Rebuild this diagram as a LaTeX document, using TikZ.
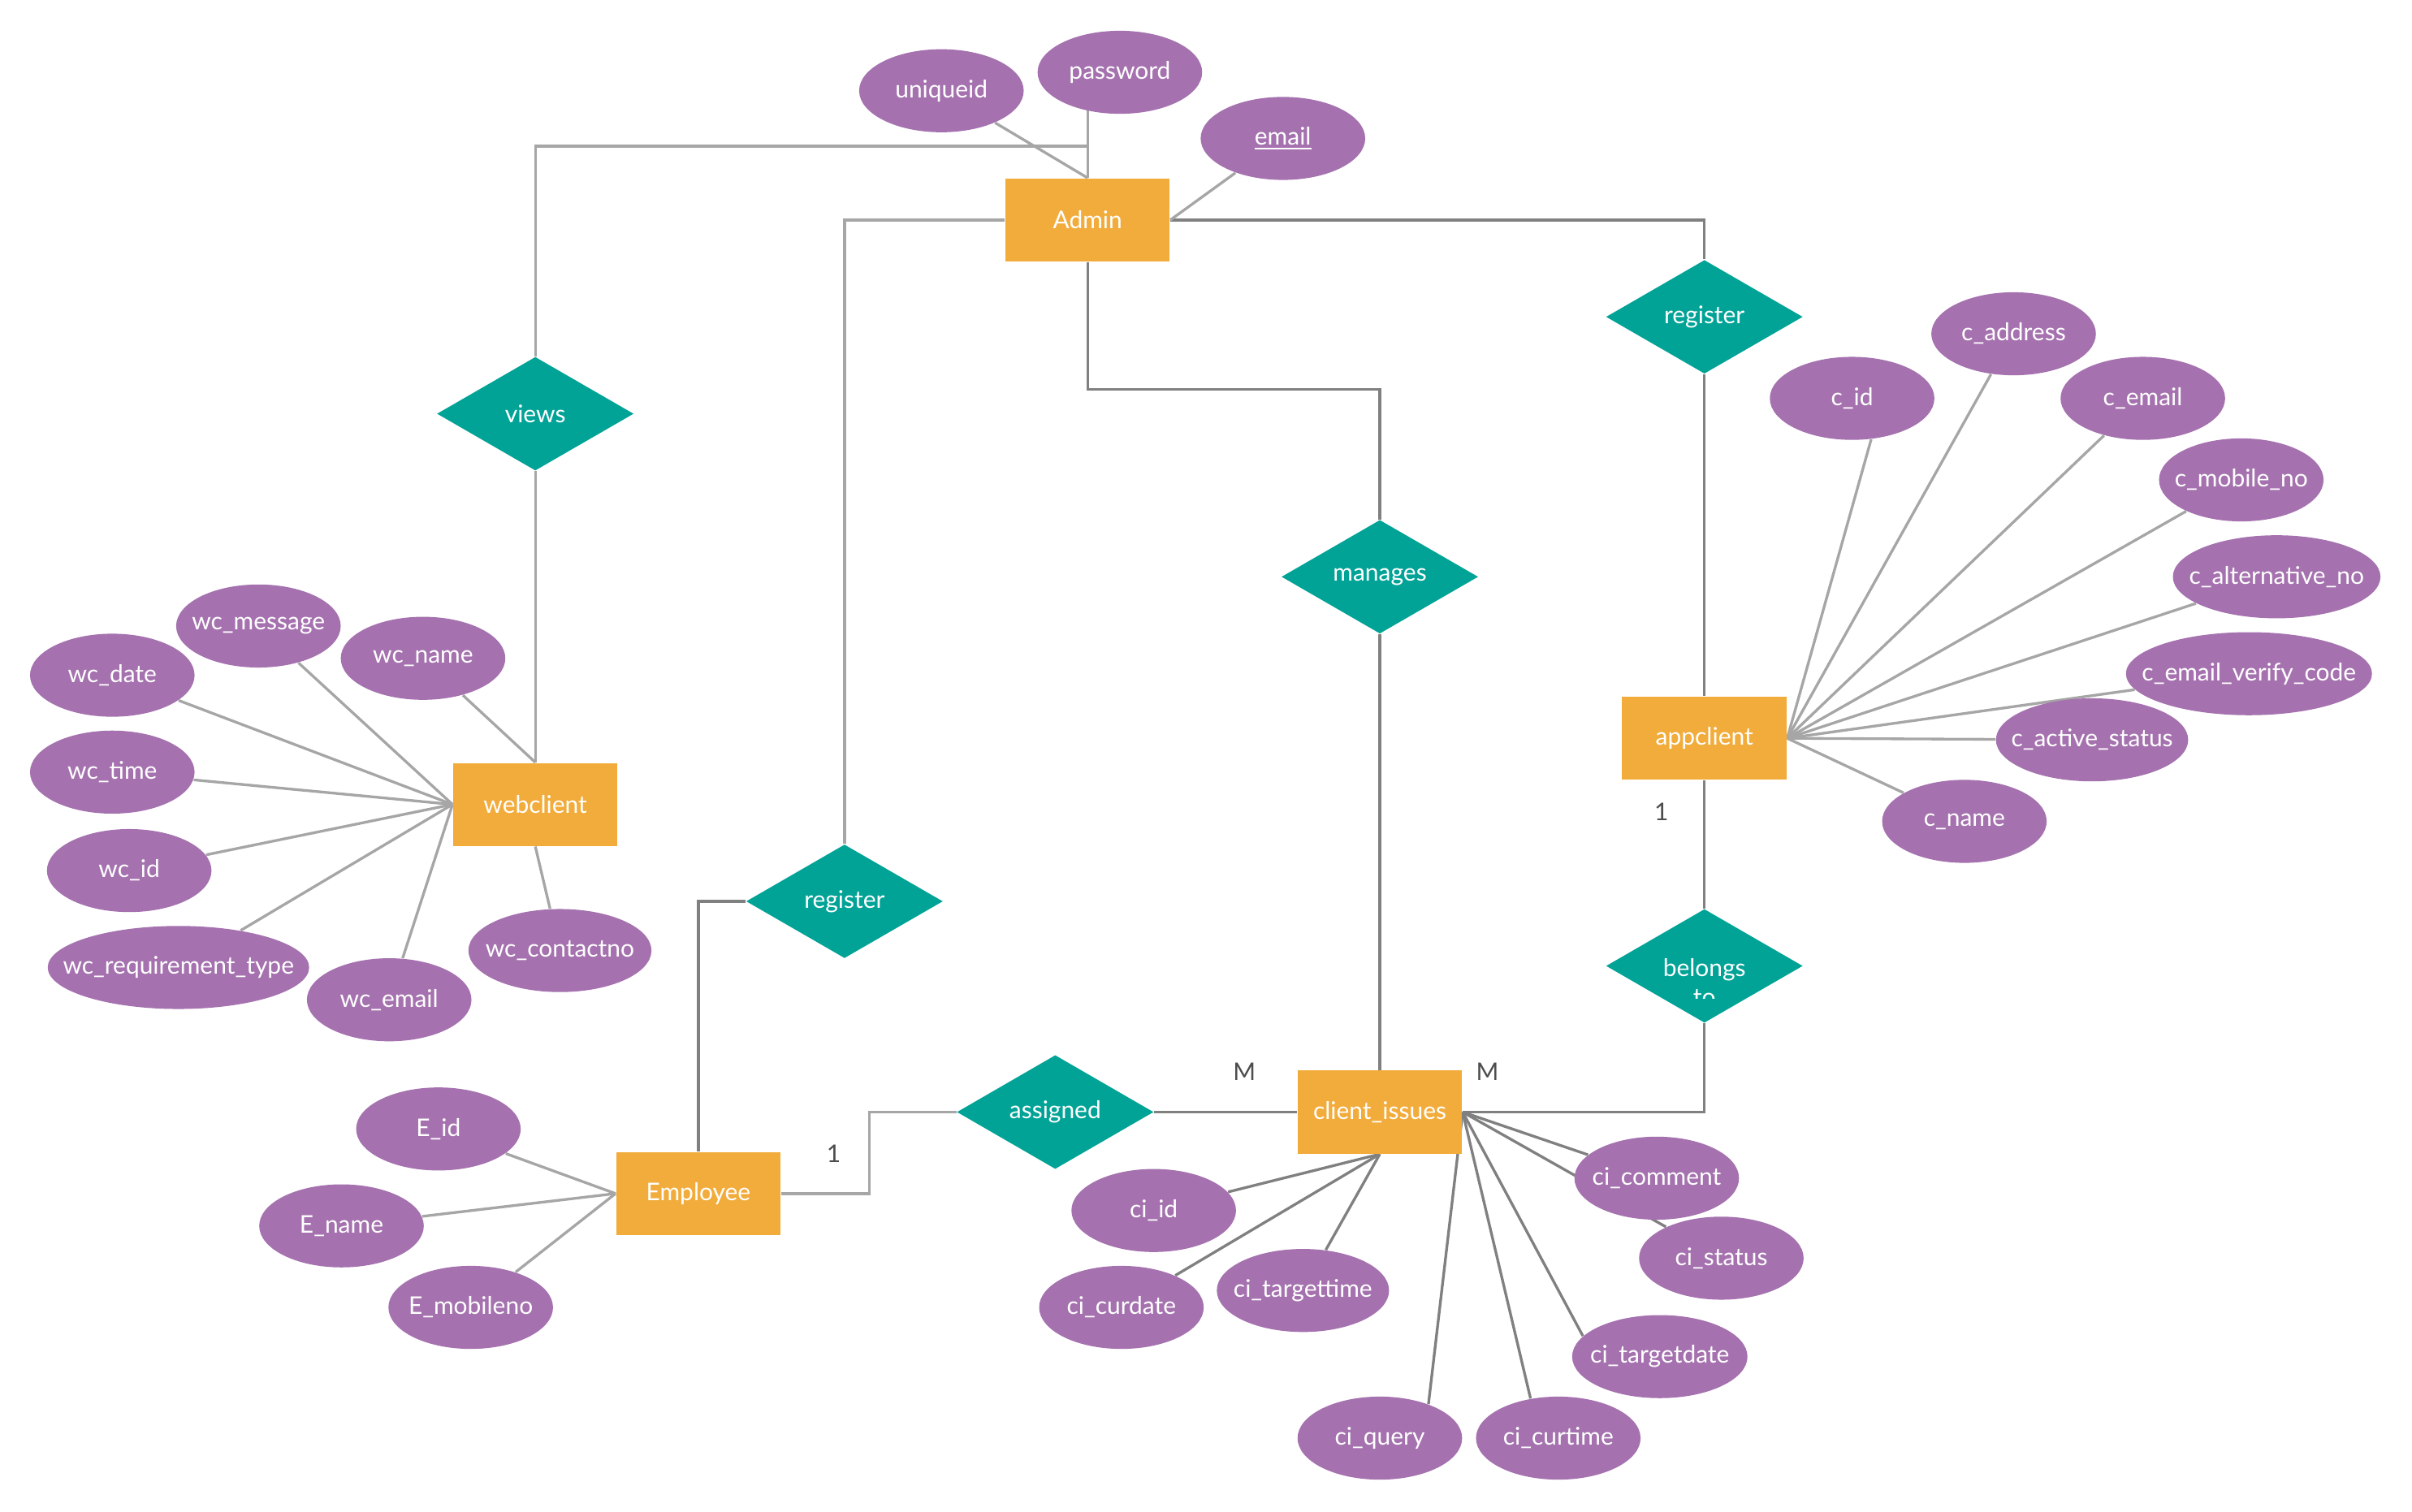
\documentclass[tikz,border=0pt]{standalone}
\usepackage{fontspec}
\setmainfont{Lato}
\usetikzlibrary{shapes.geometric,backgrounds}

\definecolor{entcol}{HTML}{F2AC3B}
\definecolor{attcol}{HTML}{A572AF}
\definecolor{relcol}{HTML}{02A397}
\definecolor{lightline}{HTML}{A6A6A6}
\definecolor{darkline}{HTML}{808080}
\definecolor{cardcol}{HTML}{4D4D4D}

% attribute text keeps the ellipse at its set size
\newcommand{\attname}[1]{\makebox[0pt]{#1}}

\tikzstyle{entity} = [rectangle, fill=entcol, text=white, minimum width=2.14cm, minimum height=1.08cm, inner sep=0pt, font=\fontsize{9}{11}\selectfont]
\tikzstyle{attr} = [ellipse, fill=attcol, text=white, minimum width=2.14cm, minimum height=1.08cm, inner sep=0pt, font=\fontsize{9}{11}\selectfont]
\tikzstyle{rel} = [diamond, fill=relcol, text=white, minimum width=2.56cm, minimum height=1.48cm, inner sep=0pt, font=\fontsize{9}{11}\selectfont]
\tikzstyle{reltext} = [text=white, inner sep=0pt, font=\fontsize{9}{11}\selectfont]
\tikzstyle{card} = [text=cardcol, font=\fontsize{9}{11}\selectfont]
\tikzstyle{lline} = [draw=lightline, line width=1pt]
\tikzstyle{dline} = [draw=darkline, line width=1pt]

\begin{document}
\begin{tikzpicture}[x=0.02cm, y=-0.02cm]
\useasboundingbox (0,0) rectangle (1568,983);
%begin entities
\node[entity] (admin) at (707,143) {Admin};
\node[entity] (webclient) at (348,523) {webclient};
\node[entity] (appclient) at (1108,480) {appclient};
\node[entity] (employee) at (454,776) {Employee};
\node[entity] (issues) at (897,723) {client\_issues};
%end entities
%begin relations
\node[rel] (views) at (348,269) {views};
\node[rel] (regapp) at (1108,206) {register};
\node[rel] (manages) at (897,375) {manages};
\node[rel] (regemp) at (549,586) {register};
\node[rel] (belongs) at (1108,628) {};
\node[rel] (assigned) at (686,723) {assigned};
% belongs to: second line is cut off
\begin{scope}
\clip (1040,560) rectangle (1180,649);
\node[reltext, anchor=base] at (1108,635) {belongs};
\node[reltext, anchor=base] at (1108,654) {to};
\end{scope}
%end relations
%begin admin attributes
\node[attr] (uniqueid) at (612,59) {\attname{uniqueid}};
\node[attr] (password) at (728,47) {\attname{password}};
\node[attr] (email) at (834,90) {\attname{\underline{email}}};
%end admin attributes
%begin webclient attributes
\node[attr] (wcmessage) at (168,407) {\attname{wc\_message}};
\node[attr] (wcname) at (275,428) {\attname{wc\_name}};
\node[attr] (wcdate) at (73,439) {\attname{wc\_date}};
\node[attr] (wctime) at (73,502) {\attname{wc\_time}};
\node[attr] (wcid) at (84,566) {\attname{wc\_id}};
\node[attr, minimum width=3.4cm] (wcreq) at (116,629) {\attname{wc\_requirement\_type}};
\node[attr] (wcemail) at (253,650) {\attname{wc\_email}};
\node[attr, minimum width=2.38cm] (wccontact) at (364,618) {\attname{wc\_contactno}};
%end webclient attributes
%begin appclient attributes
\node[attr] (cid) at (1204,259) {\attname{c\_id}};
\node[attr] (caddress) at (1309,217) {\attname{c\_address}};
\node[attr] (cemail) at (1393,259) {\attname{c\_email}};
\node[attr] (cmobile) at (1457,312) {\attname{c\_mobile\_no}};
\node[attr, minimum width=2.7cm] (calt) at (1480,375) {\attname{c\_alternative\_no}};
\node[attr, minimum width=3.2cm] (cverify) at (1462,438) {\attname{c\_email\_verify\_code}};
\node[attr, minimum width=2.5cm] (cactive) at (1360,481) {\attname{c\_active\_status}};
\node[attr] (cname) at (1277,534) {\attname{c\_name}};
%end appclient attributes
%begin employee attributes
\node[attr] (eid) at (285,734) {\attname{E\_id}};
\node[attr] (ename) at (222,797) {\attname{E\_name}};
\node[attr] (emobile) at (306,850) {\attname{E\_mobileno}};
%end employee attributes
%begin client_issues attributes
\node[attr] (ciid) at (750,787) {\attname{ci\_id}};
\node[attr] (cicurdate) at (729,850) {\attname{ci\_curdate}};
\node[attr, minimum width=2.24cm] (citargettime) at (847,839) {\attname{ci\_targettime}};
\node[attr] (cicomment) at (1077,766) {\attname{ci\_comment}};
\node[attr] (cistatus) at (1119,818) {\attname{ci\_status}};
\node[attr, minimum width=2.28cm] (citargetdate) at (1079,882) {\attname{ci\_targetdate}};
\node[attr] (ciquery) at (897,935) {\attname{ci\_query}};
\node[attr] (cicurtime) at (1013,935) {\attname{ci\_curtime}};
%end client_issues attributes
%begin bends
\coordinate (vbend) at (707,95);
\coordinate (mbend) at (707,253);
\coordinate (abend) at (565,776);
%end bends
%begin cardinalities
\node[card] (c1) at (1080,528) {1};
\node[card] (c2) at (967,697) {M};
\node[card] (c3) at (542,750) {1};
\node[card] (c4) at (809,697) {M};
%end cardinalities
\begin{pgfonlayer}{background}
%begin relationship lines
\draw[lline] (views.north) |- (vbend) -- (admin.north);
\draw[lline] (admin.north) -- (admin.north |- password.center);
\draw[lline] (admin.west) -| (regemp.north);
\draw[dline] (admin.east) -| (regapp.north);
\draw[dline] (admin.south) -- (mbend) -| (manages.north);
\draw[dline] (manages.south) -- (issues.north);
\draw[dline] (regapp.south) -- (appclient.north);
\draw[dline] (appclient.south) -- (belongs.north);
\draw[dline] (belongs.south) |- (issues.east);
\draw[lline] (views.south) -- (webclient.north);
\draw[dline] (regemp.west) -| (employee.north);
\draw[lline] (employee.east) -- (abend) |- (assigned.west);
\draw[dline] (assigned.east) -- (issues.west);
%end relationship lines
%begin attribute lines
\draw[lline] (uniqueid) -- (admin.north);
\draw[lline] (email) -- (admin.east);
\foreach \a in {wcmessage,wcdate,wctime,wcid,wcreq,wcemail}
    \draw[lline] (\a) -- (webclient.west);
\draw[lline] (wcname) -- (webclient.north);
\draw[lline] (wccontact) -- (webclient.south);
\draw[lline] (cid.-65) -- (appclient.east);
\foreach \a in {caddress,cemail,cmobile,calt,cverify,cactive,cname}
    \draw[lline] (\a) -- (appclient.east);
\foreach \a in {eid,ename,emobile}
    \draw[lline] (\a) -- (employee.west);
\foreach \a in {ciid,cicurdate,citargettime}
    \draw[dline] (\a) -- (issues.south);
\foreach \a in {cicomment,cistatus}
    \draw[dline] (\a) -- (issues.east);
\draw[dline] (citargetdate.165) -- (issues.east);
\draw[dline] (ciquery.35) -- (issues.east);
\draw[dline] (cicurtime.125) -- (issues.east);
%end attribute lines
\end{pgfonlayer}
\end{tikzpicture}
\end{document}
